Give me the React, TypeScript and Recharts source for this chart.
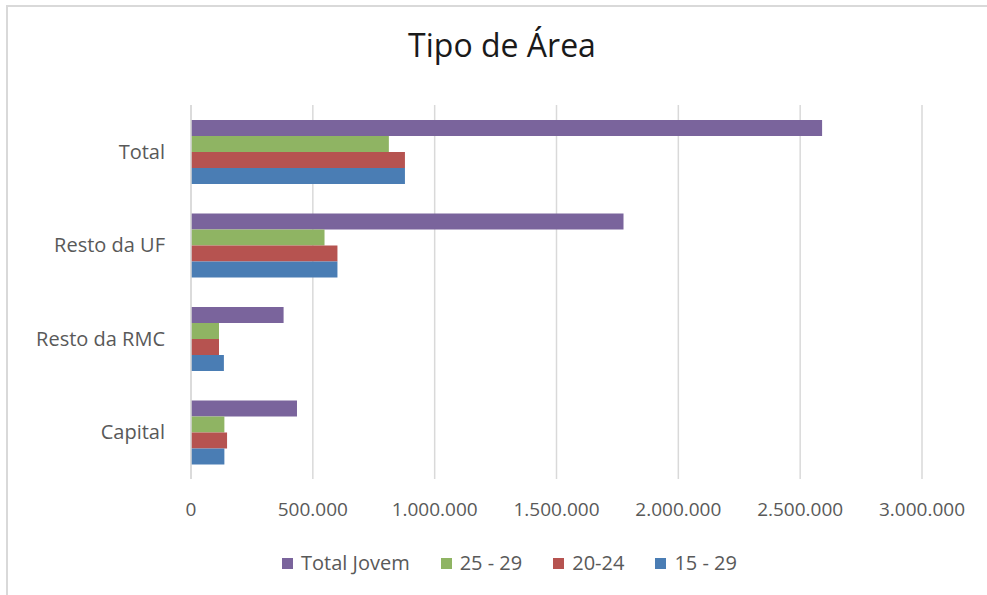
import React from "react";
import { BarChart, Bar, XAxis, YAxis, CartesianGrid } from "recharts";

const categories = ["Total", "Resto da UF", "Resto da RMC", "Capital"];
const totalJovem = [2590000, 1775000, 380000, 435000];
const age25to29 = [812000, 548000, 115000, 137000];
const age20to24 = [878000, 601000, 115000, 148000];
const age15to29 = [878000, 601000, 135000, 137000];
const xTicks = [0, 500000, 1000000, 1500000, 2000000, 2500000, 3000000];

const seriesNames = ["Total Jovem", "25 - 29", "20-24", "15 - 29"];
const seriesKeys = ["totalJovem", "a25", "a20", "a15"];
const seriesColors = ["#7a649c", "#8fb463", "#b65350", "#4a7db4"];

const data = categories.map((c, i) => ({
  name: c,
  totalJovem: totalJovem[i],
  a25: age25to29[i],
  a20: age20to24[i],
  a15: age15to29[i],
}));

const fmt = (v: number) => String(v).replace(/\B(?=(\d{3})+(?!\d))/g, ".");

const FONT = "'Open Sans', sans-serif";
const TXT = "#595959";

export default function App() {
  return (
    <div
      style={{
        position: "absolute",
        left: 0,
        top: 0,
        width: 987,
        height: 595,
        background: "#fff",
        fontFamily: FONT,
        overflow: "hidden",
      }}
    >
      <div
        style={{
          position: "absolute",
          left: 6,
          top: 5,
          width: 1100,
          height: 700,
          borderLeft: "2px solid #d9d9d9",
          borderTop: "2px solid #d9d9d9",
        }}
      />
      <div
        style={{
          position: "absolute",
          left: 0,
          width: 1004,
          top: 24,
          textAlign: "center",
          fontSize: 32,
          lineHeight: "42px",
          color: "#1a1a1a",
        }}
      >
        Tipo de Área
      </div>
      <div style={{ position: "absolute", left: 0, top: 0 }}>
        <BarChart
          width={987}
          height={595}
          data={data}
          layout="vertical"
          margin={{ top: 105, right: 65, bottom: 86, left: 0 }}
          barGap={0}
          barSize={16}
        >
          <CartesianGrid
            horizontal={false}
            stroke="#d9d9d9"
            strokeWidth={1.5}
          />
          <XAxis
            type="number"
            domain={[0, 3000000]}
            ticks={xTicks}
            tickFormatter={fmt}
            axisLine={false}
            tickLine={false}
            tickSize={0}
            tickMargin={24}
            height={30}
            interval={0}
            tick={{ fill: TXT, fontSize: 19 }}
          />
          <YAxis
            type="category"
            dataKey="name"
            width={191}
            axisLine={{ stroke: "#d9d9d9", strokeWidth: 1.5 }}
            tickLine={false}
            tickSize={0}
            tickMargin={26}
            tick={{ fill: TXT, fontSize: 20 }}
          />
          {seriesKeys.map((k, i) => (
            <Bar
              key={k}
              dataKey={k}
              name={seriesNames[i]}
              fill={seriesColors[i]}
              isAnimationActive={false}
            />
          ))}
        </BarChart>
      </div>
      <div
        style={{
          position: "absolute",
          left: 0,
          width: 1019,
          top: 550,
          display: "flex",
          justifyContent: "center",
          gap: 31,
          fontSize: 20,
          color: TXT,
          lineHeight: "26px",
        }}
      >
        {seriesNames.map((n, i) => (
          <div key={n} style={{ display: "flex", alignItems: "center" }}>
            <span
              style={{
                display: "inline-block",
                width: 11,
                height: 11,
                background: seriesColors[i],
                marginRight: 8,
              }}
            />
            <span>{n}</span>
          </div>
        ))}
      </div>
    </div>
  );
}
